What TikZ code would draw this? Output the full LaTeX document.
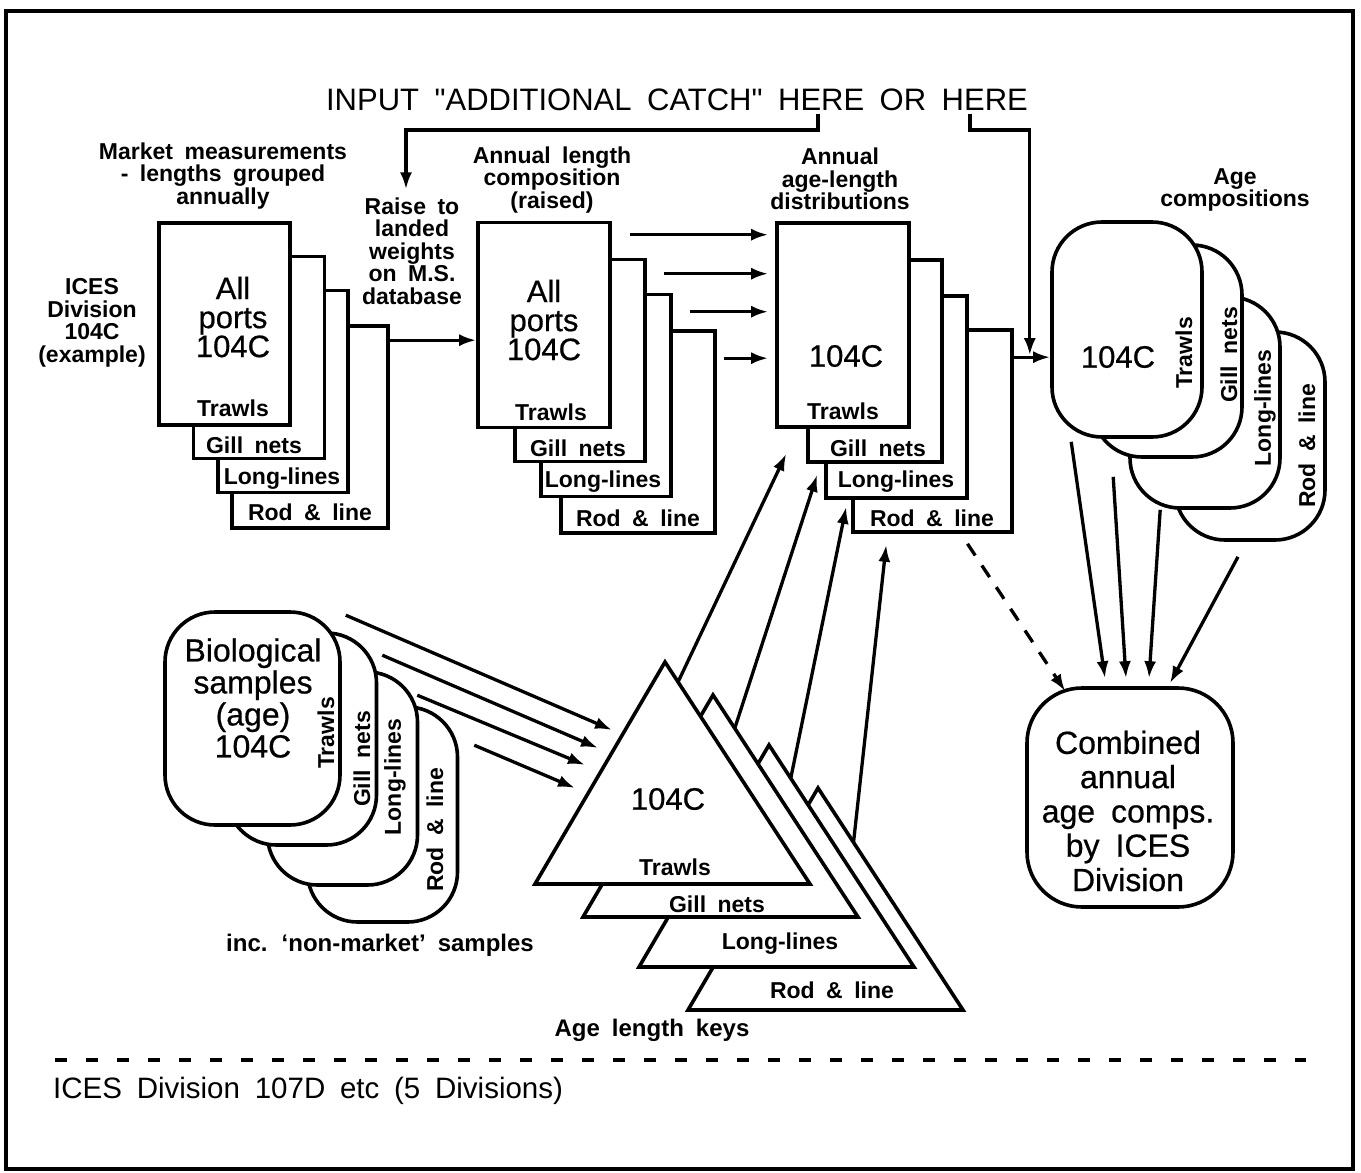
\documentclass[tikz,border=0pt]{standalone}
\usepackage{fontspec}
\setmainfont{Liberation Sans}[WordSpace=1.8,Ligatures=TeXOff]
\newfontfamily\medfont{Liberation Sans}[WordSpace=1.8,Ligatures=TeXOff,FakeBold=0.6]
\usetikzlibrary{arrows.meta,calc,positioning}

\begin{document}
\begin{tikzpicture}[x=1pt,y=-1pt,
  card/.style={draw,fill=white,line width=3.6pt,inner sep=0pt,minimum width=131pt,minimum height=202pt},
  blob/.style={card,rounded corners=50pt,minimum width=150pt,minimum height=212pt},
  lab/.style={font=\fontsize{23}{22.5}\selectfont\bfseries,align=center,inner sep=0pt},
  big/.style={font=\fontsize{31}{29}\selectfont\medfont,align=center,inner sep=0pt},
  arr/.style={line width=3.3pt,-{Latex[length=17pt,width=12pt]}}]
  \useasboundingbox (0,0) rectangle (1361,1173);
  \draw[line width=3.5pt] (6,11) rectangle (1353,1169);

  \node[font=\fontsize{31}{31}\selectfont,inner sep=0pt] (input) at (677,100) {INPUT "ADDITIONAL CATCH" HERE OR HERE};
  \coordinate (here1) at (818,114);
  \coordinate (here2) at (970,114);

  % market measurements
  \node[lab] (mktT) at (223,176) {Market measurements\\- lengths grouped\\annually};
  \node[lab] (ices) at (92,323) {ICES\\Division\\104C\\(example)};
  \node[card,minimum width=156pt] (mktD) at (310,427) {};
  \node[card,minimum width=130pt] (mktC) at (283,391.5) {};
  \node[card] (mktB) at (259,357.5) {};
  \node[card] (mktA) at (224.5,324) {};
  \node[big] (mktX) at (233,317) {All\\ports\\104C};
  \node[lab] (mktAt) at (233,408) {Trawls};
  \node[lab] (mktBt) at (254,445) {Gill nets};
  \node[lab] (mktCt) at (282,479) {Long-lines};
  \node[lab] (mktDt) at (310,512) {Rod \& line};
  \node[lab] (raise) at (412,251) {Raise to\\landed\\weights\\on M.S.\\database};

  % length composition
  \node[lab] (lenT) at (552,180) {Annual length\\composition\\(raised)};
  \node[card,minimum width=154pt] (lenD) at (638,432) {};
  \node[card,minimum width=130pt] (lenC) at (606,395.5) {};
  \node[card,minimum width=130pt] (lenB) at (580,360.5) {};
  \node[card,minimum width=132pt,minimum height=205pt] (lenA) at (544,325) {};
  \node[big] (lenX) at (544,320) {All\\ports\\104C};
  \node[lab] (lenAt) at (551,412) {Trawls};
  \node[lab] (lenBt) at (578,448) {Gill nets};
  \node[lab] (lenCt) at (603,482) {Long-lines};
  \node[lab] (lenDt) at (638,518) {Rod \& line};

  % age-length distributions
  \node[lab] (alkT) at (840,179) {Annual\\age-length\\distributions};
  \node[card,minimum width=159pt] (alkD) at (932.5,431) {};
  \node[card,minimum width=141pt] (alkC) at (896.5,397) {};
  \node[card,minimum width=134pt] (alkB) at (875,361) {};
  \node[card,minimum width=132pt,minimum height=204pt] (alkA) at (843,325) {};
  \node[big] (alkX) at (846,356) {104C};
  \node[lab] (alkAt) at (843,411) {Trawls};
  \node[lab] (alkBt) at (878,448) {Gill nets};
  \node[lab] (alkCt) at (896,482) {Long-lines};
  \node[lab] (alkDt) at (932,518) {Rod \& line};

  % age compositions
  \node[lab] (agcT) at (1235,190) {Age\\compositions};
  \node[blob,minimum height=208pt] (agcD) at (1250,436) {};
  \node[blob,minimum height=211pt] (agcC) at (1205,402.5) {};
  \node[blob] (agcB) at (1167,351) {};
  \node[blob,minimum height=215pt] (agcA) at (1127,329.5) {};
  \node[big] (agcX) at (1118,357) {104C};
  \node[lab,rotate=90] (agcAt) at (1184,353) {Trawls};
  \node[lab,rotate=90] (agcBt) at (1229,355) {Gill nets};
  \node[lab,rotate=90] (agcCt) at (1265,408) {Long-lines};
  \node[lab,rotate=90] (agcDt) at (1307,446) {Rod \& line};

  % biological samples
  \node[blob,minimum height=215pt] (bioD) at (382.5,814.5) {};
  \node[blob,minimum height=213pt] (bioC) at (342.5,778.5) {};
  \node[blob] (bioB) at (301.5,739) {};
  \node[blob,minimum width=175pt,minimum height=213pt] (bioA) at (252.5,718.5) {};
  \node[big,font=\fontsize{32}{32}\selectfont\medfont] (bioX) at (253,698) {Biological\\samples\\(age)\\104C};
  \node[lab,rotate=90] (bioAt) at (326,733) {Trawls};
  \node[lab,rotate=90] (bioBt) at (362,759) {Gill nets};
  \node[lab,rotate=90] (bioCt) at (395,777) {Long-lines};
  \node[lab,rotate=90] (bioDt) at (435,830) {Rod \& line};
  \node[lab,font=\fontsize{24}{24}\selectfont\bfseries] (bioN) at (380,945) {inc. ‘non-market’ samples};

  % age length keys
  \foreach \n/\ax/\ay in {D/818/788,C/769/745,B/713/695,A/665/662}{
    \coordinate (key\n) at (\ax,\ay);
    \draw[line width=3.6pt,fill=white] (key\n) -- ++(145,222) -- ++(-275,0) -- cycle;
  }
  \node[big] (keyX) at (668,799) {104C};
  \node[lab] (keyAt) at (675,867) {Trawls};
  \node[lab] (keyBt) at (717,904) {Gill nets};
  \node[lab] (keyCt) at (780,944) {Long-lines};
  \node[lab] (keyDt) at (832,990) {Rod \& line};
  \node[lab,font=\fontsize{24}{24}\selectfont\bfseries] (keyN) at (652,1030) {Age length keys};

  % combined
  \node[card,rounded corners=55pt,minimum width=206pt,minimum height=219pt] (comb) at (1130,797.5) {};
  \node[big,font=\fontsize{32}{34.3}\selectfont\medfont] (combX) at (1128,811) {Combined\\annual\\age comps.\\by ICES\\Division};

  % connectors
  \draw[arr] ([shift={(0,16)}]mktD.north east) coordinate (m0) -- (m0 -| lenA.west);
  \draw[arr] ([shift={(18,14)}]lenA.north east) coordinate (l1) -- ($(l1 -| alkA.west)+(-7,0)$);
  \draw[arr] ([shift={(17,16)}]lenB.north east) coordinate (l2) -- ($(l2 -| alkA.west)+(-7,0)$);
  \draw[arr] ([shift={(17,19)}]lenC.north east) coordinate (l3) -- ($(l3 -| alkA.west)+(-7,0)$);
  \draw[arr] ([shift={(7,29)}]lenD.north east) coordinate (l4) -- ($(l4 -| alkA.west)+(-7,0)$);
  \draw[arr] ([shift={(0,29)}]alkD.north east) coordinate (j0) -- (j0 -| agcA.west);
  \draw[arr] (here1) -- ++(0,16) -| ($(raise.north)+(-6,-8)$);
  \draw[arr] (here2) -- ++(0,16) -| ($(j0)+(16,-2)$);

  \draw[arr] ([shift={(4,5)}]bioA.north east) -- ($(keyA)+(-53,68)$);
  \draw[arr] ([shift={(4,24)}]bioB.north east) -- ($(keyA)+(-67,86)$);
  \draw[arr] ([shift={(-2,25)}]bioC.north east) -- ($(keyA)+(-80,103)$);
  \draw[arr] ([shift={(15,40)}]bioD.north east) -- ($(keyA)+(-90,126)$);

  \draw[arr] ($(keyA)+0.09*(145,222)$) -- ([shift={(11,25)}]alkA.south west);
  \draw[arr] ($(keyB)+0.15*(145,222)$) -- ([shift={(11,11)}]alkB.south west);
  \draw[arr] ($(keyC)+0.15*(145,222)$) -- ([shift={(22,7)}]alkC.south west);
  \draw[arr] ($(keyD)+0.245*(145,222)$) -- ([shift={(35,11)}]alkD.south west);

  \draw[arr] ([shift={(21,3)}]agcA.south west) -- ([shift={(-25,-8)}]comb.north);
  \draw[arr] ([shift={(23,18)}]agcB.south west) -- ([shift={(-4,-8)}]comb.north);
  \draw[arr] ([shift={(32,0)}]agcC.south west) -- ([shift={(19,-8)}]comb.north);
  \draw[arr] ([shift={(-12,15)}]agcD.south) -- ([shift={(40,-3)}]comb.north);
  \draw[arr,dash pattern=on 14pt off 12pt] ([shift={(35,10)}]alkD.south) -- ([shift={(40,5)}]comb.north west);

  % other divisions
  \draw[line width=4pt,dash pattern=on 12pt off 19pt] (55,1060) -- (1306,1060);
  \node[font=\fontsize{29.5}{29.5}\selectfont,inner sep=0pt,anchor=west] (other) at (53,1091) {ICES Division 107D etc (5 Divisions)};
\end{tikzpicture}
\end{document}
